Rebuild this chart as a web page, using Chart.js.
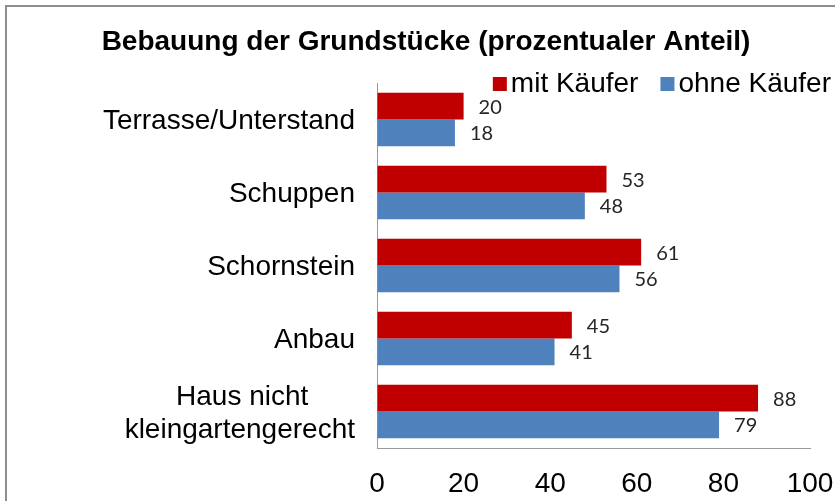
<!DOCTYPE html>
<html><head><meta charset="utf-8">
<script src="https://cdn.jsdelivr.net/npm/chart.js@4/dist/chart.umd.min.js"></script>
<style>
html,body{margin:0;padding:0;background:#fff;}
#wrap{position:relative;width:835px;height:501px;overflow:hidden;background:#fff;}
#frame{position:absolute;left:5px;top:5px;width:900px;height:600px;border-left:2px solid #8e8e8e;border-top:2px solid #8e8e8e;}
canvas{position:absolute;left:0;top:0;}
</style></head><body>
<div id="wrap"><div id="frame"></div><canvas id="c" width="835" height="501"></canvas></div>
<script>
// ---- data ----
const categories = ['Terrasse/Unterstand', 'Schuppen', 'Schornstein', 'Anbau', ['Haus nicht', 'kleingartengerecht']];
const seriesNames = ['mit Käufer', 'ohne Käufer'];
const mitKaeufer = [20, 53, 61, 45, 88];
const ohneKaeufer = [18, 48, 56, 41, 79];
const xTicks = [0, 20, 40, 60, 80, 100];
const titleText = 'Bebauung der Grundstücke (prozentualer Anteil)';

// ---- styles ----
const RED = '#C00000';
const BLUE = '#4F81BD';
const FAMILY = '"Liberation Sans", Arial, sans-serif';
const LABEL_FONT = {family: FAMILY, size: 28, lineHeight: 1.17};
const measureCtx = document.createElement('canvas').getContext('2d');
measureCtx.font = LABEL_FONT.size + 'px ' + FAMILY;

function centreLines(lines) {
  if (!Array.isArray(lines)) return lines;
  const w = lines.map(l => measureCtx.measureText(l).width);
  const max = Math.max(...w);
  const sp = measureCtx.measureText('\u00A0').width;
  return lines.map((l, i) => l + '\u00A0'.repeat(Math.round((max - w[i]) / 2 / sp)));
}

const valueLabels = {
  id: 'valueLabels',
  afterDatasetsDraw(chart) {
    const ctx = chart.ctx;
    ctx.save();
    ctx.font = '20px Lato, "Open Sans", sans-serif';
    ctx.fillStyle = '#262626';
    ctx.textAlign = 'left';
    ctx.textBaseline = 'middle';
    chart.data.datasets.forEach((ds, i) => {
      chart.getDatasetMeta(i).data.forEach((el, j) => {
        ctx.fillText(String(ds.data[j]), el.x + 15, el.y + 1);
      });
    });
    ctx.restore();
  }
};

const boxLegend = {
  id: 'boxLegend',
  afterDraw(chart) {
    const ctx = chart.ctx;
    ctx.save();
    ctx.font = '28px ' + FAMILY;
    ctx.textBaseline = 'middle';
    ctx.textAlign = 'left';
    const right = 831, y = chart.chartArea.top + 1, box = 14, gap = 4, itemGap = 22;
    const items = chart.data.datasets.map(d => ({text: d.label, color: d.backgroundColor, w: ctx.measureText(d.label).width}));
    const total = items.reduce((s, it) => s + box + gap + it.w, 0) + itemGap * (items.length - 1);
    let x = right - total;
    items.forEach(it => {
      ctx.fillStyle = it.color;
      ctx.fillRect(x, y - box / 2, box, box);
      x += box + gap;
      ctx.fillStyle = '#000';
      ctx.fillText(it.text, x, y);
      x += it.w + itemGap;
    });
    ctx.restore();
  }
};

new Chart(document.getElementById('c'), {
  type: 'bar',
  data: {
    labels: categories,
    datasets: [
      {label: seriesNames[0], data: mitKaeufer, backgroundColor: RED, borderWidth: 0},
      {label: seriesNames[1], data: ohneKaeufer, backgroundColor: BLUE, borderWidth: 0}
    ]
  },
  options: {
    indexAxis: 'y',
    responsive: false,
    animation: false,
    devicePixelRatio: 1,
    categoryPercentage: 0.73,
    barPercentage: 1.0,
    layout: {padding: {left: 42, right: 25, top: 0, bottom: 0}},
    plugins: {
      legend: {display: false},
      tooltip: {enabled: false},
      title: {
        display: true,
        text: titleText,
        color: '#000',
        font: {family: FAMILY, size: 28, weight: 'bold', lineHeight: 1.2},
        padding: {top: 25.2, bottom: 24.2}
      }
    },
    scales: {
      x: {
        type: 'linear',
        min: 0, max: 100,
        grid: {display: true, drawOnChartArea: false, drawTicks: true, tickLength: 20, color: 'rgba(0,0,0,0)'},
        border: {display: true, color: '#9a9a9a', width: 1},
        afterBuildTicks: s => { s.ticks = xTicks.map(v => ({value: v})); },
        afterFit: s => { s.height = 53; },
        ticks: {color: '#000', padding: 0, font: LABEL_FONT, maxRotation: 0}
      },
      y: {
        type: 'category',
        grid: {display: false, drawTicks: false},
        border: {display: true, color: '#9a9a9a', width: 1},
        afterFit: s => { s.width = 335; },
        ticks: {
          color: '#000', padding: 22, font: LABEL_FONT, autoSkip: false, labelOffset: 2,
          callback: function (value) { return centreLines(this.getLabelForValue(value)); }
        }
      }
    }
  },
  plugins: [valueLabels, boxLegend]
});
</script>
</body></html>
